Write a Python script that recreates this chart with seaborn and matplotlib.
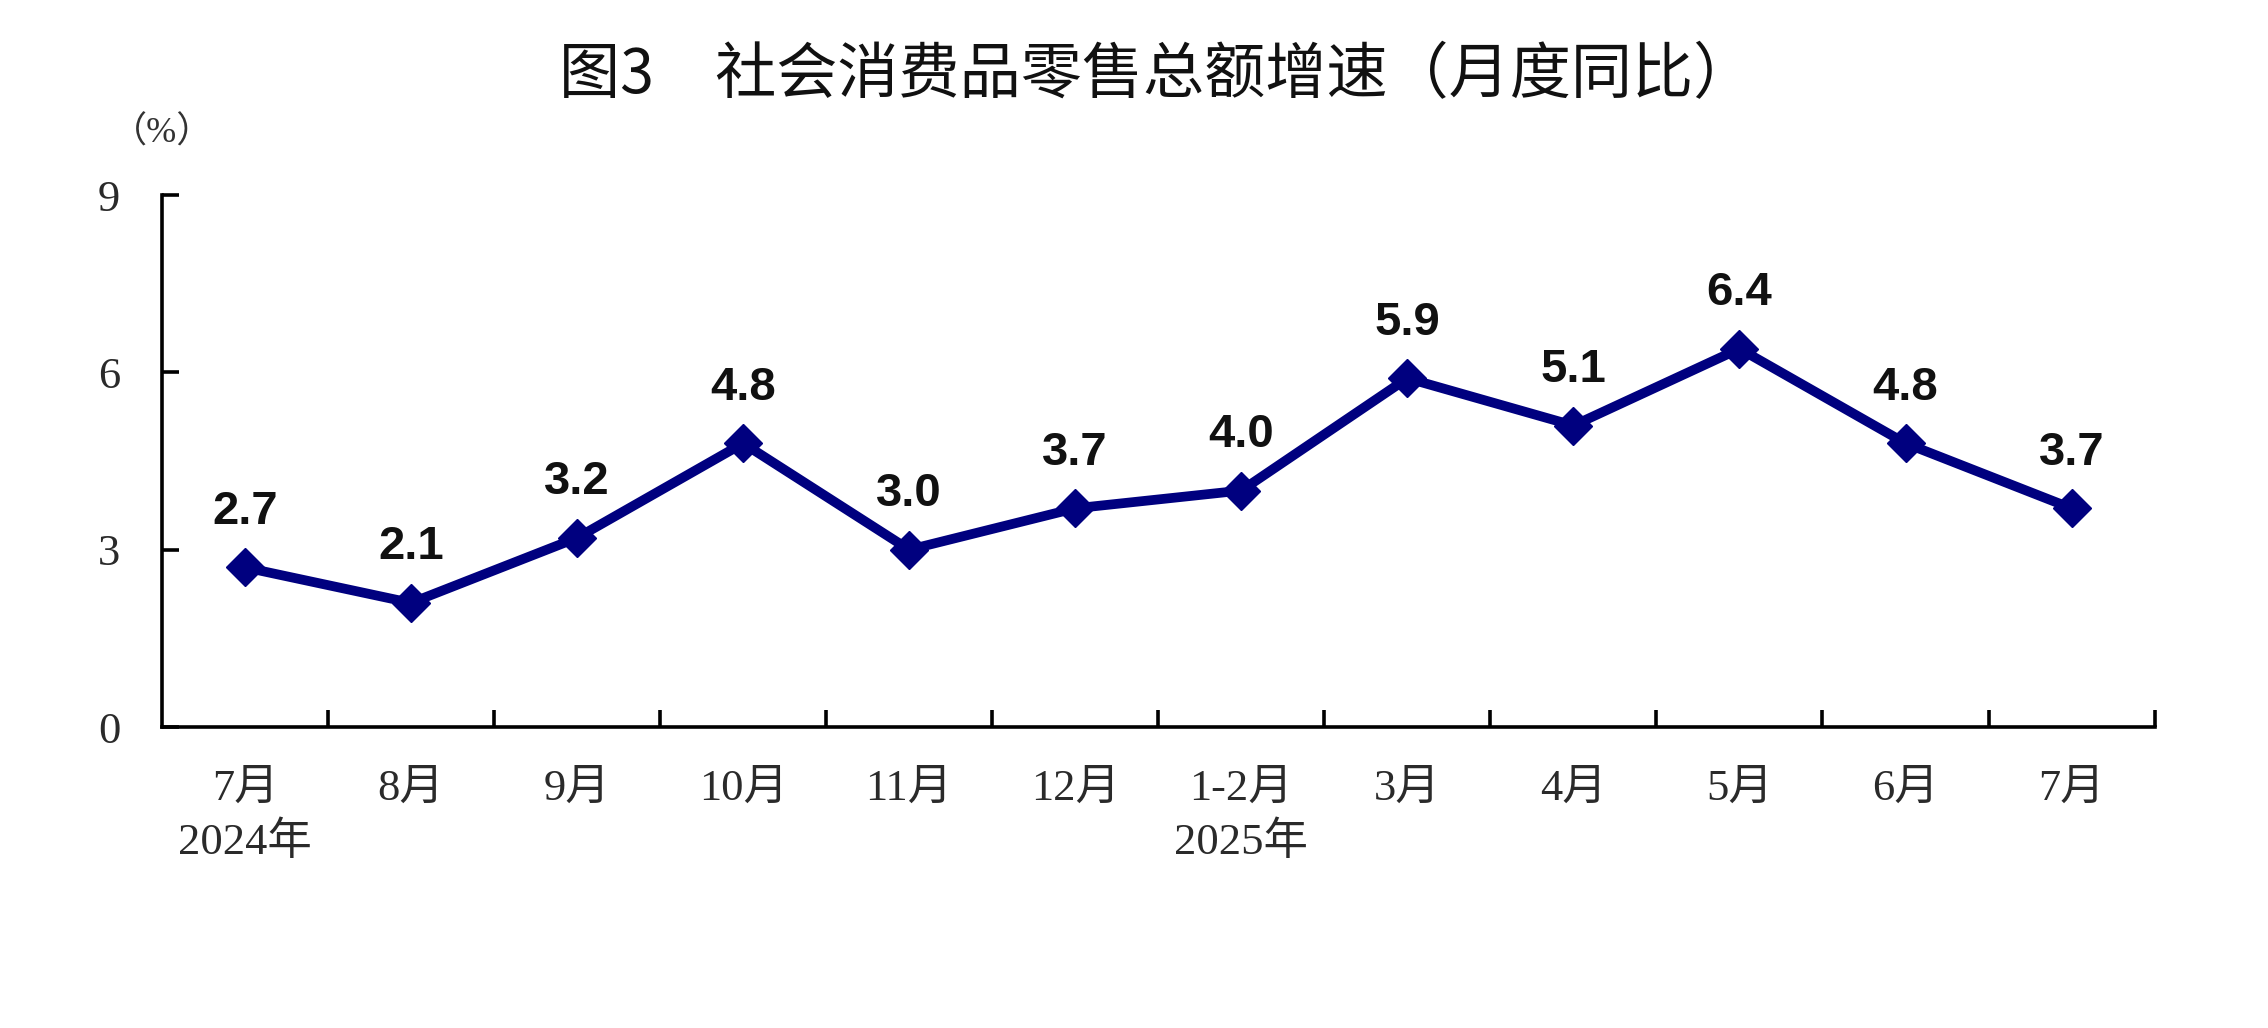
import numpy as np
import pandas as pd
import matplotlib
matplotlib.use("Agg")
import matplotlib.pyplot as plt
import seaborn as sns

# 数据
months = ["7月", "8月", "9月", "10月", "11月", "12月", "1-2月", "3月", "4月", "5月", "6月", "7月"]
years = ["2024年", "", "", "", "", "", "2025年", "", "", "", "", ""]
growth = [2.7, 2.1, 3.2, 4.8, 3.0, 3.7, 4.0, 5.9, 5.1, 6.4, 4.8, 3.7]
yticks = [0, 3, 6, 9]

sns.set_theme(style="white")
plt.rcParams["font.family"] = ["Liberation Serif", "Noto Sans CJK SC", "DejaVu Sans"]

df = pd.DataFrame({"idx": np.arange(len(months)), "growth": growth})

fig = plt.figure(figsize=(22.68, 10.28), dpi=100)
ax = fig.add_axes([0.0714, 0.2928, 0.8786, 0.5175])

line_color = "#00007F"
sns.lineplot(data=df, x="idx", y="growth", ax=ax, color=line_color, linewidth=7,
             marker="D", markersize=19, markeredgecolor=line_color, markeredgewidth=1)

# 数据标签
for i, v in enumerate(growth):
    ax.annotate(f"{v:.1f}", (i, v), xytext=(0, 40), textcoords="offset points",
                ha="center", va="center", fontsize=34, fontweight="bold",
                family=["Liberation Sans", "DejaVu Sans"], color="#111111")

ax.set_xlim(-0.5, len(months) - 0.5)
ax.set_ylim(0, 9)
ax.set_yticks(yticks)
ax.set_yticklabels([str(t) for t in yticks])

labels = [m if y == "" else f"{m}\n{y}" for m, y in zip(months, years)]
ax.set_xticks(np.arange(len(months)))
ax.set_xticklabels(labels, linespacing=1.4)
ax.set_xticks(np.arange(len(months)) + 0.5, minor=True)

ax.tick_params(axis="x", which="major", length=0, pad=30, labelsize=32, labelcolor="#2a2a2a")
ax.tick_params(axis="x", which="minor", direction="in", length=12, width=2.6, color="black", bottom=True)
ax.tick_params(axis="y", which="major", direction="in", length=12, width=2.6, color="black",
               pad=30, labelsize=32, labelcolor="#2a2a2a", left=True)
for lab in ax.get_xticklabels():
    lab.set_verticalalignment("top")

for s in ["top", "right"]:
    ax.spines[s].set_visible(False)
for s in ["left", "bottom"]:
    ax.spines[s].set_linewidth(2.6)
    ax.spines[s].set_color("black")

ax.set_xlabel("")
ax.set_ylabel("")

ax.text(0.0, 1.115, "（%）", transform=ax.transAxes, ha="center", va="center",
        fontsize=26, color="#333333")

fig.text(0.51, 0.926, "图3　社会消费品零售总额增速（月度同比）", ha="center", va="center",
         fontsize=44, fontweight="medium", family=["Noto Sans CJK SC", "DejaVu Sans"],
         color="#111111")

fig.savefig("out.png", dpi=100)
